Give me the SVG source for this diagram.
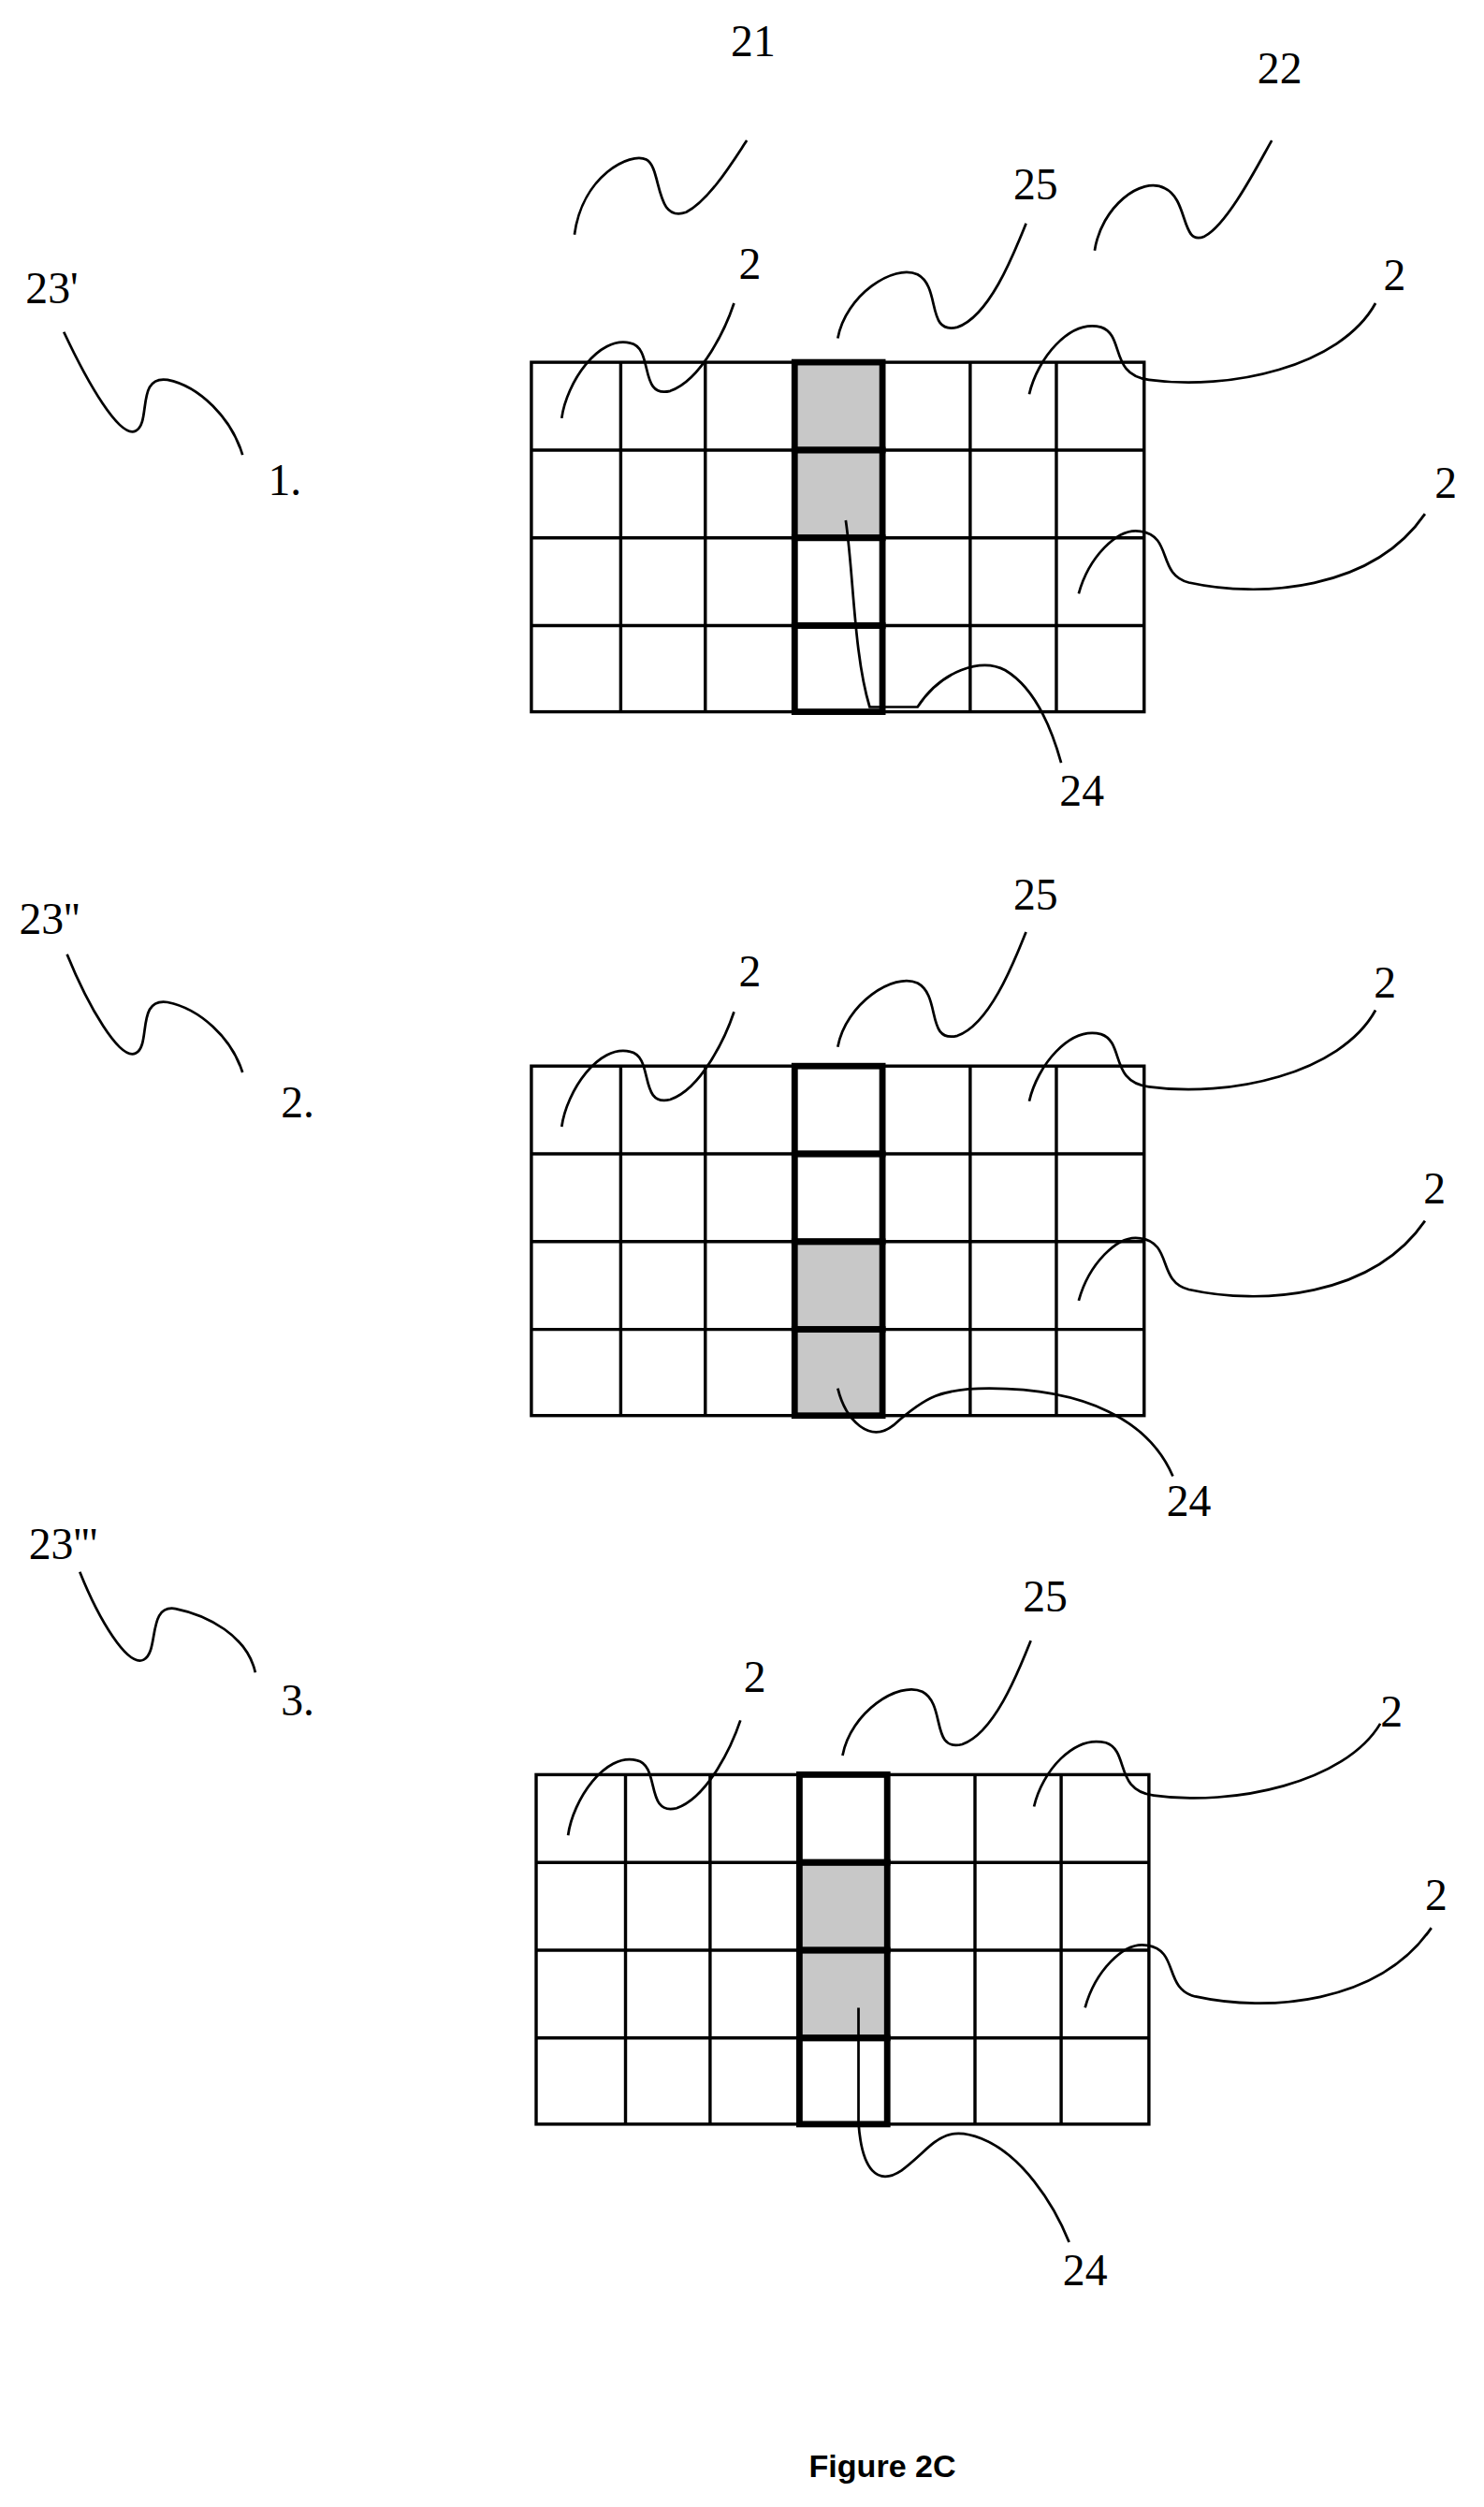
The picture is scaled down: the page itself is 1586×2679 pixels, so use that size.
<svg xmlns="http://www.w3.org/2000/svg" width="1586" height="2679" viewBox="0 0 1586 2679">
<style>
.g{fill:none;stroke:#000;stroke-width:2}
.hl{fill:none;stroke:#000;stroke-width:4}
.grey{fill:#c8c8c8}
.c path{fill:none;stroke:#000;stroke-width:1.6}
text{font-family:"Liberation Serif",serif;font-size:28px;fill:#000}
.cap{font-family:"Liberation Sans",Arial,sans-serif;font-weight:bold;font-size:20px}
</style>
<defs>
<g id="grid">
<rect x="0" y="0" width="384" height="219" fill="#fff" class="g"/>
<path class="g" d="M56,0V219M109,0V219M165,0V219M220,0V219M275,0V219M329,0V219M0,55H384M0,110H384M0,165H384"/>
</g>
</defs>
<rect width="1586" height="2679" fill="#fff"/>
<g transform="scale(1.7054)">
<g id="panel1" transform="translate(333,227)">
<use href="#grid"/>
<rect class="grey" x="167" y="2" width="51" height="52"/>
<rect class="grey" x="167" y="57" width="51" height="52"/>
<rect class="hl" x="165" y="0" width="55" height="55"/>
<rect class="hl" x="165" y="55" width="55" height="55"/>
<rect class="hl" x="165" y="110" width="55" height="55"/>
<rect class="hl" x="165" y="165" width="55" height="54"/>
</g>
<g id="panel2" transform="translate(333,668)">
<use href="#grid"/>
<rect class="grey" x="167" y="112" width="51" height="52"/>
<rect class="grey" x="167" y="167" width="51" height="50"/>
<rect class="hl" x="165" y="0" width="55" height="55"/>
<rect class="hl" x="165" y="55" width="55" height="55"/>
<rect class="hl" x="165" y="110" width="55" height="55"/>
<rect class="hl" x="165" y="165" width="55" height="54"/>
</g>
<g id="panel3" transform="translate(336,1112)">
<use href="#grid"/>
<rect class="grey" x="167" y="57" width="51" height="52"/>
<rect class="grey" x="167" y="112" width="51" height="52"/>
<rect class="hl" x="165" y="0" width="55" height="55"/>
<rect class="hl" x="165" y="55" width="55" height="55"/>
<rect class="hl" x="165" y="110" width="55" height="55"/>
<rect class="hl" x="165" y="165" width="55" height="54"/>
</g>
<g id="connectors" class="c">
<path d="M360,147 C365,110 395,95 405,100 C415,105 410,140 430,133 C445,125 460,100 468,88"/>
<path d="M686,157 C690,130 715,110 730,118 C745,125 740,155 755,148 C770,140 790,100 797,88"/>
<path d="M40,208 C55,240 75,275 85,270 C95,265 85,235 105,238 C125,242 145,262 152,285"/>
<path d="M525,212 C530,185 560,165 575,172 C590,180 580,210 600,205 C620,198 635,160 643,140"/>
<path d="M352,262 C355,240 375,210 395,215 C410,218 400,250 420,245 C440,238 455,205 460,190"/>
<path d="M645,247 C650,225 670,200 690,205 C705,210 695,235 720,238 C770,245 840,230 862,190"/>
<path d="M676,372 C682,350 700,330 715,333 C735,336 725,360 745,365 C790,375 860,370 893,322"/>
<path d="M530,326 C535,360 535,410 545,443 L575,443 C590,420 615,412 630,420 C650,432 660,460 665,478"/>
<path d="M42,598 C55,630 75,665 85,660 C95,655 85,625 105,628 C125,632 145,650 152,672"/>
<path d="M525,656 C530,629 560,609 575,616 C590,624 580,654 600,649 C620,642 635,604 643,584"/>
<path d="M352,706 C355,684 375,654 395,659 C410,662 400,694 420,689 C440,682 455,649 460,634"/>
<path d="M645,690 C650,668 670,643 690,648 C705,653 695,678 720,681 C770,688 840,673 862,633"/>
<path d="M676,815 C682,793 700,773 715,776 C735,779 725,803 745,808 C790,818 860,813 893,765"/>
<path d="M525,870 C530,890 545,905 560,893 C580,875 590,870 620,870 C680,870 720,890 735,925"/>
<path d="M50,985 C62,1015 80,1045 90,1040 C100,1035 92,1005 110,1008 C130,1012 155,1025 160,1048"/>
<path d="M528,1100 C533,1073 563,1053 578,1060 C593,1068 583,1098 603,1093 C623,1086 638,1048 646,1028"/>
<path d="M356,1150 C359,1128 379,1098 399,1103 C414,1106 404,1138 424,1133 C444,1126 459,1093 464,1078"/>
<path d="M648,1132 C653,1110 673,1087 693,1092 C708,1097 698,1122 723,1125 C773,1132 843,1117 865,1080"/>
<path d="M680,1258 C686,1236 704,1216 719,1219 C739,1222 729,1246 749,1251 C794,1261 864,1256 897,1208"/>
<path d="M538,1258 L538,1330 C540,1360 550,1370 565,1360 C585,1345 590,1330 615,1340 C640,1350 660,1380 670,1405"/>
</g>
<g id="labels">
<text x="458" y="35">21</text>
<text x="788" y="52">22</text>
<text x="16" y="190">23'</text>
<text x="168" y="310">1.</text>
<text x="635" y="125">25</text>
<text x="463" y="175">2</text>
<text x="867" y="182">2</text>
<text x="899" y="312">2</text>
<text x="664" y="505">24</text>
<text x="12" y="585">23''</text>
<text x="176" y="700">2.</text>
<text x="635" y="570">25</text>
<text x="463" y="618">2</text>
<text x="861" y="625">2</text>
<text x="892" y="754">2</text>
<text x="731" y="950">24</text>
<text x="18" y="977">23'''</text>
<text x="176" y="1075">3.</text>
<text x="641" y="1010">25</text>
<text x="466" y="1060">2</text>
<text x="865" y="1082">2</text>
<text x="893" y="1197">2</text>
<text x="666" y="1432">24</text>
<text class="cap" x="553" y="1552" text-anchor="middle">Figure 2C</text>
</g>
</g>
</svg>
